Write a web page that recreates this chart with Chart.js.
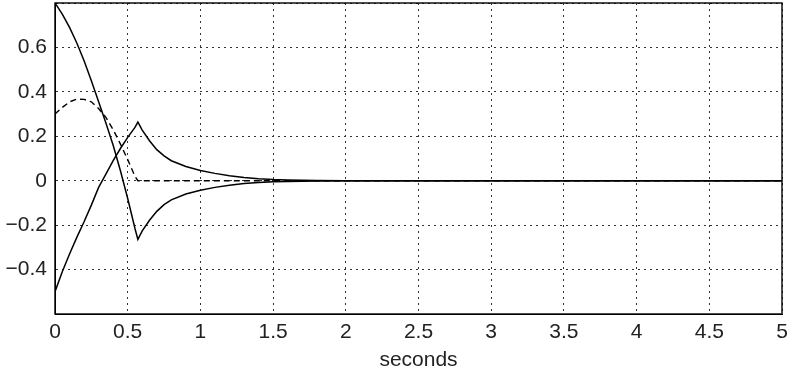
<!DOCTYPE html>
<html>
<head>
<meta charset="utf-8">
<script src="https://cdn.jsdelivr.net/npm/chart.js@4/dist/chart.umd.min.js"></script>
<style>
    body { margin: 0; background: #fff; }
    #wrap { width: 788px; height: 373px; }
</style>
</head>
<body>
<div id="wrap"><canvas id="plot"></canvas></div>
<script>
// sample times (s) shared by all three responses
const seconds = [0, 0.05, 0.1, 0.15, 0.2, 0.25, 0.3, 0.35, 0.4, 0.45, 0.5, 0.55, 0.57,
    0.6, 0.65, 0.7, 0.75, 0.8, 0.9, 1, 1.1, 1.2, 1.3, 1.4, 1.5, 1.6, 1.8, 2, 2.5, 5];

// state starting at 0.8
const stateA = [0.8, 0.75, 0.69, 0.62, 0.54, 0.45, 0.355, 0.26, 0.16, 0.045, -0.08, -0.215, -0.264,
    -0.226, -0.178, -0.138, -0.108, -0.086, -0.06, -0.043, -0.03, -0.02, -0.013, -0.008, -0.005, -0.003, -0.001, -0.0003, 0, 0];

// state starting at -0.5
const stateB = [-0.5, -0.41, -0.33, -0.255, -0.185, -0.11, -0.03, 0.03, 0.09, 0.145, 0.195, 0.24, 0.264,
    0.228, 0.18, 0.14, 0.112, 0.09, 0.064, 0.046, 0.033, 0.022, 0.014, 0.0085, 0.005, 0.003, 0.001, 0.0003, 0, 0];

// control input (dashed), zero after switching
const control = [0.3, 0.33, 0.355, 0.367, 0.366, 0.355, 0.325, 0.285, 0.23, 0.165, 0.095, 0.02, 0,
    0, 0, 0, 0, 0, 0, 0, 0, 0, 0, 0, 0, 0, 0, 0, 0, 0];

const xTicks = [0, 0.5, 1, 1.5, 2, 2.5, 3, 3.5, 4, 4.5, 5];
const yTicks = [-0.6, -0.4, -0.2, 0, 0.2, 0.4, 0.6, 0.8];

const font = { family: "Liberation Sans, Arial, Helvetica, sans-serif", size: 21 };

function points(values) {
    return seconds.map((t, i) => ({ x: t, y: values[i] }));
}

// box round the plot area, like a closed axes frame
const frame = {
    id: "frame",
    afterDatasetsDraw(chart) {
        const { ctx, chartArea: a } = chart;
        ctx.save();
        ctx.strokeStyle = "#000";
        ctx.lineWidth = 1.4;
        ctx.strokeRect(a.left, a.top, a.right - a.left, a.bottom - a.top);
        ctx.restore();
    }
};

new Chart(document.getElementById("plot"), {
    type: "line",
    data: {
        datasets: [
            { data: points(stateA), borderColor: "#000", borderWidth: 1.5 },
            { data: points(stateB), borderColor: "#000", borderWidth: 1.5 },
            { data: points(control), borderColor: "#000", borderWidth: 1.4, borderDash: [6, 4] }
        ]
    },
    options: {
        responsive: true,
        maintainAspectRatio: false,
        animation: false,
        layout: { padding: { top: 3, right: 6, left: 0, bottom: 0 } },
        elements: { point: { radius: 0 }, line: { tension: 0 } },
        plugins: { legend: { display: false }, tooltip: { enabled: false } },
        scales: {
            x: {
                type: "linear",
                min: xTicks[0],
                max: xTicks[xTicks.length - 1],
                afterBuildTicks: (s) => { s.ticks = xTicks.map(v => ({ value: v })); },
                ticks: { color: "#222", font, padding: 6, maxRotation: 0,
                    callback: (v) => String(v) },
                grid: { color: "#333", lineWidth: 1, drawTicks: false },
                border: { dash: [2, 4], color: "#000" },
                title: { display: true, text: "seconds", color: "#222", font, padding: { top: 3, bottom: 0 } },
                afterFit: (s) => { s.height = 59; s.paddingLeft = 0; s.paddingRight = 0; }
            },
            y: {
                min: yTicks[0],
                max: yTicks[yTicks.length - 1],
                afterBuildTicks: (s) => { s.ticks = yTicks.map(v => ({ value: v })); },
                ticks: {
                    color: "#222", font, padding: 8,
                    callback: (v) => {
                        if (v === yTicks[0] || v === yTicks[yTicks.length - 1]) return "";
                        const r = Math.round(v * 10) / 10;
                        return r < 0 ? "\u2212" + Math.abs(r) : String(r);
                    }
                },
                grid: { color: "#333", lineWidth: 1, drawTicks: false },
                border: { dash: [2, 4], color: "#000" },
                afterFit: (s) => { s.width = 55; s.paddingTop = 0; s.paddingBottom = 0; }
            }
        }
    },
    plugins: [frame]
});
</script>
</body>
</html>
